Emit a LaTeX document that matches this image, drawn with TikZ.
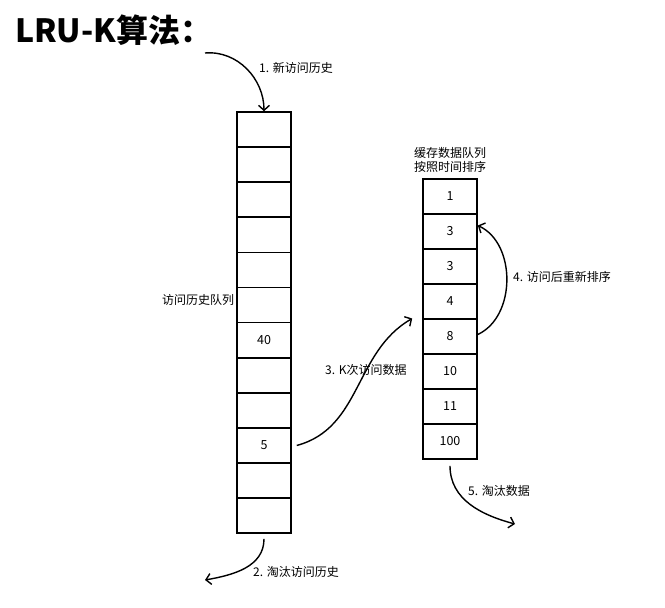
\documentclass[tikz,border=0pt]{standalone}
\usepackage{fontspec}
\setmainfont{Noto Sans CJK SC}
\usetikzlibrary{arrows.meta}

\begin{document}
\begin{tikzpicture}[x=1pt, y=-1pt,
	cell/.style={draw, line width=1.6pt, minimum width=54pt, minimum height=35pt, inner sep=0pt, font=\fontsize{12.5}{14}\selectfont},
	txt/.style={anchor=west, inner sep=0pt, font=\fontsize{12}{14}\selectfont},
	flow/.style={line width=1.4pt, arrows={-Straight Barb[length=5pt,width=11pt]}}]
	\useasboundingbox (0,0) rectangle (665,608);
	\node[anchor=base west, inner sep=0pt, font=\fontsize{32}{36}\selectfont\bfseries] (title) at (15,42) {LRU-K算法：};
	% history queue
	\foreach \v [count=\i] in {{},{},{},{},{},{},40,{},{},5,{},{}}
		\node[cell] (h\i) at (264,{112+35.1*(\i-0.5)}) {\v};
	% cache queue
	\foreach \v [count=\i] in {1,3,3,4,8,10,11,100}
		\node[cell] (c\i) at (450,{179+35*(\i-0.5)}) {\v};
	\node[txt] (hname) at (162,300) {访问历史队列};
	\node[above=5pt, inner sep=0pt, align=center, font=\fontsize{12}{14}\selectfont] (cname) at (c1.north) {缓存数据队列\\按照时间排序};
	\coordinate (newin) at (205,53);
	\coordinate (histout) at (205,580);
	\coordinate (dataout) at (515,524);
	\draw[flow] (newin) to[out=5,in=90] (h1.north);
	\draw[flow] ([yshift=-5pt]h12.south) to[out=-90,in=10] (histout);
	\draw[flow] ([xshift=5pt]h10.east) to[out=15,in=210] ([xshift=-10pt,yshift=18pt]c5.west);
	\draw[flow] ([yshift=2pt]c5.east) to[out=25,in=-25] ([yshift=6pt]c2.east);
	\draw[flow] ([yshift=-6pt]c8.south) to[out=-90,in=165] (dataout);
	\node[txt] (l1) at (259,68) {1. 新访问历史};
	\node[txt] (l2) at (253,572) {2. 淘汰访问历史};
	\node[txt] (l3) at (325,370) {3. K次访问数据};
	\node[txt] (l4) at (513,277) {4. 访问后重新排序};
	\node[txt] (l5) at (468,491) {5. 淘汰数据};
\end{tikzpicture}
\end{document}
